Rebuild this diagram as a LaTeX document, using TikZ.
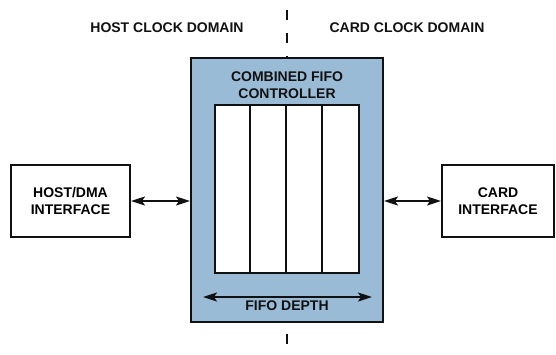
\documentclass[tikz,border=0pt]{standalone}
\usepackage{fontspec}
\setmainfont{Liberation Sans}
\usepackage{xcolor}
\usepackage{tikz}
\usetikzlibrary{positioning,arrows.meta,calc}
\definecolor{ink}{HTML}{111111}
\definecolor{ctrlbg}{HTML}{9ABBD6}
\tikzset{
  blk/.style={rectangle,draw=ink,line width=2pt,fill=white,align=center,
    inner sep=0pt,font=\bfseries\fontsize{14}{17}\selectfont},
  ctrlblk/.style={blk,fill=ctrlbg},
  cell/.style={rectangle,draw=ink,line width=1.8pt,fill=white,inner sep=0pt},
  lbl/.style={align=center,inner sep=0pt,font=\bfseries\fontsize{14}{17}\selectfont,text=ink},
  ar/.style={{Stealth[length=14pt,width=9pt,inset=3pt]}-{Stealth[length=14pt,width=9pt,inset=3pt]},line width=1.8pt,draw=ink},
  bdr/.style={draw=ink,line width=1.8pt,dash pattern=on 10pt off 13pt},
}
\begin{document}
\begin{tikzpicture}[x=1pt,y=-1pt]
  \useasboundingbox (0,0) rectangle (556,354);
  % domains
  \node[lbl] (hostdom) at (167,28) {HOST CLOCK DOMAIN};
  \node[lbl] (carddom) at (407,28) {CARD CLOCK DOMAIN};
  % controller
  \node[ctrlblk,minimum width=192pt,minimum height=264pt] (ctrl) at (287,189.5) {};
  \node[lbl] (ctrltxt) at (287,85) {COMBINED FIFO\\CONTROLLER};
  \node[cell,minimum width=144pt,minimum height=168pt] (fifo) at (287,189) {};
  \foreach \i in {1,2,3}
    \draw[ink,line width=1.8pt] ($(fifo.north west)+(36*\i,0)$) -- ($(fifo.south west)+(36*\i,0)$);
  \coordinate (dl) at (203,297);
  \coordinate (dr) at (372,297);
  \draw[ar] (dl) -- (dr);
  \node[lbl] (depth) at (287,306) {FIFO DEPTH};
  % interfaces
  \node[blk,minimum width=119pt,minimum height=72pt] (host) at (70.5,201) {HOST/DMA\\INTERFACE};
  \node[blk,minimum width=112pt,minimum height=72pt] (card) at (498,201) {CARD\\INTERFACE};
  \draw[ar] (host.east) -- (host.east -| ctrl.west);
  \draw[ar] (card.west) -- (card.west -| ctrl.east);
  % domain border
  \coordinate (bt) at (287,10);
  \coordinate (bb) at (287,345);
  \draw[bdr] (bt) -- (ctrl.north);
  \draw[bdr,dash phase=12pt] (ctrl.south) -- (bb);
\end{tikzpicture}
\end{document}
